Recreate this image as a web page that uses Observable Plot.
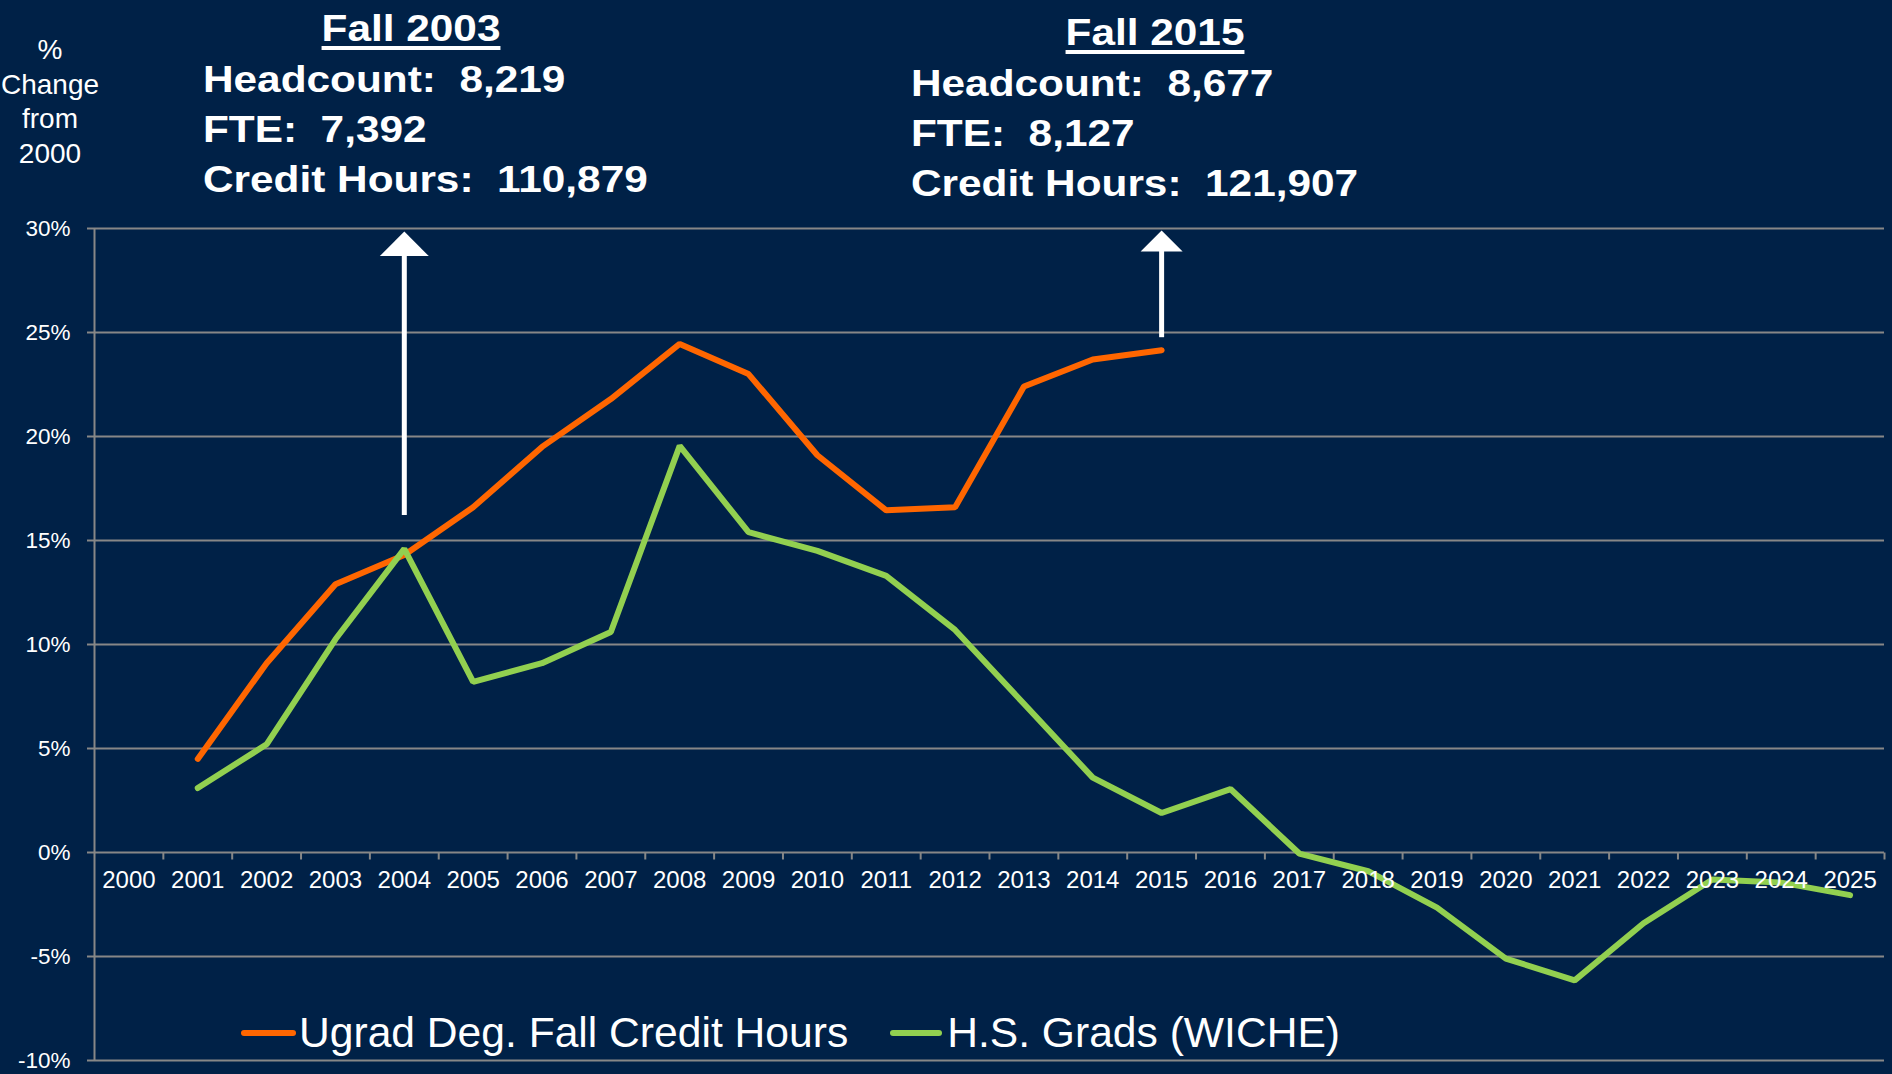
<!DOCTYPE html>
<html>
<head>
<meta charset="utf-8">
<script src="https://cdn.jsdelivr.net/npm/d3@7"></script>
<script src="https://cdn.jsdelivr.net/npm/@observablehq/plot@0.6"></script>
<style>
  html, body { margin: 0; padding: 0; background: #002147; }
  #wrap { position: relative; width: 1892px; height: 1074px; overflow: hidden; background: #002147;
          font-family: "Liberation Sans", Arial, sans-serif; color: #fff; }
  #wrap svg { position: absolute; left: 0; top: 0; }
  .anno { position: absolute; font-weight: bold; font-size: 36.5px; line-height: 50px; white-space: pre; color: #fff; }
  .anno.title { width: 400px; text-align: center; text-decoration: underline; text-decoration-thickness: 4px;
                text-underline-offset: 5px; transform: scaleX(1.16); transform-origin: center top; }
  .anno.lines { transform: scaleX(1.16); transform-origin: left top; }
  #ylabel { position: absolute; left: 0; top: 33px; width: 100px; text-align: center; font-size: 28px; line-height: 34.5px; }
  #legend { position: absolute; top: 1008px; left: 241px; display: flex; align-items: center; font-size: 42.6px; white-space: nowrap; }
  #legend .sw { display: inline-block; height: 6px; border-radius: 3px; }
</style>
</head>
<body>
<div id="wrap"></div>
<script>
// ---- data ----
const yearLabels = [2000, 2001, 2002, 2003, 2004, 2005, 2006, 2007, 2008, 2009, 2010, 2011, 2012,
                    2013, 2014, 2015, 2016, 2017, 2018, 2019, 2020, 2021, 2022, 2023, 2024, 2025];
const yTicks = [-10, -5, 0, 5, 10, 15, 20, 25, 30];

const seriesNames = ["Ugrad Deg. Fall Credit Hours", "H.S. Grads (WICHE)"];
const seriesColors = ["#FF6600", "#92D050"];

const ugradYears = [2001, 2002, 2003, 2004, 2005, 2006, 2007, 2008, 2009, 2010, 2011, 2012, 2013, 2014, 2015];
const ugradValues = [4.5, 9.1, 12.9, 14.3, 16.6, 19.5, 21.8, 24.45, 23.0, 19.1, 16.45, 16.6, 22.4, 23.7, 24.15];

const hsYears = [2001, 2002, 2003, 2004, 2005, 2006, 2007, 2008, 2009, 2010, 2011, 2012, 2013,
                 2014, 2015, 2016, 2017, 2018, 2019, 2020, 2021, 2022, 2023, 2024, 2025];
const hsValues = [3.1, 5.2, 10.25, 14.6, 8.2, 9.1, 10.6, 19.55, 15.4, 14.5, 13.3, 10.7, 7.15,
                  3.6, 1.9, 3.05, -0.05, -0.9, -2.65, -5.1, -6.15, -3.4, -1.3, -1.45, -2.05];

const annotations = [
  {year: 2004, title: "Fall 2003", headcount: "8,219", fte: "7,392", credit: "110,879", from: 16.2, to: 29.85},
  {year: 2015, title: "Fall 2015", headcount: "8,677", fte: "8,127", credit: "121,907", from: 24.75, to: 29.9}
];

const yLabelLines = ["%", "Change", "from", "2000"];

// ---- build ----
const GRID = "#878787";
const ugrad = ugradYears.map((year, i) => ({year, value: ugradValues[i]}));
const hs = hsYears.map((year, i) => ({year, value: hsValues[i]}));
const xDomain = [yearLabels[0] - 0.5, yearLabels[yearLabels.length - 1] + 0.5];
const boundaries = yearLabels.map(y => y + 0.5);

const tickSymbol = {draw(ctx, size) { const r = Math.sqrt(size / Math.PI); ctx.moveTo(0, 0); ctx.lineTo(0, r); }};
const headSymbol = {draw(ctx, size) { const r = Math.sqrt(size / Math.PI); ctx.moveTo(0, 0); ctx.lineTo(r, r); ctx.lineTo(-r, r); ctx.closePath(); }};

const chart = Plot.plot({
  width: 1892,
  height: 1074,
  marginLeft: 94,
  marginRight: 8,
  marginTop: 228,
  marginBottom: 14,
  style: {background: "transparent", color: "#fff", fontFamily: "'Liberation Sans', Arial, sans-serif", overflow: "visible"},
  x: {type: "linear", domain: xDomain, axis: null},
  y: {type: "linear", domain: [yTicks[0], yTicks[yTicks.length - 1]]},
  marks: [
    Plot.ruleY(yTicks, {stroke: GRID, strokeWidth: 2}),
    Plot.ruleX([xDomain[0]], {y1: yTicks[0], y2: yTicks[yTicks.length - 1], stroke: GRID, strokeWidth: 2}),
    Plot.axisY({ticks: yTicks, tickSize: 7, tickPadding: 17, tickFormat: d => d + "%", fontSize: 22.5,
                stroke: GRID, strokeWidth: 2, fill: "#fff", label: null}),
    Plot.dot(boundaries, {x: d => d, y: 0, symbol: tickSymbol, r: 7, stroke: GRID, strokeWidth: 2, fill: "none"}),
    // arrows
    Plot.ruleX(annotations, {x: "year", y1: "from", y2: d => d.to - 1, stroke: "#fff", strokeWidth: 5}),
    Plot.dot([annotations[0]], {x: "year", y: "to", symbol: headSymbol, r: 24.5, fill: "#fff", stroke: "none"}),
    Plot.dot([annotations[1]], {x: "year", y: "to", symbol: headSymbol, r: 21, fill: "#fff", stroke: "none"}),
    // series
    Plot.line(ugrad, {x: "year", y: "value", stroke: seriesColors[0], strokeWidth: 6, strokeLinejoin: "miter", strokeLinecap: "round"}),
    Plot.line(hs, {x: "year", y: "value", stroke: seriesColors[1], strokeWidth: 6, strokeLinejoin: "miter", strokeLinecap: "round"}),
    // x tick labels on the 0% line
    Plot.text(yearLabels, {x: d => d, y: 0, dy: 28, text: d => String(d), fontSize: 24, fill: "#fff"})
  ]
});

const wrap = document.getElementById("wrap");
wrap.appendChild(chart);

const xs = chart.scale("x");
const layout = [
  {titleDx: 7, titleTop: 3.8, linesDx: -201, linesTop: 55.4},
  {titleDx: -5.7, titleTop: 8.1, linesDx: -250.6, linesTop: 58.8}
];
annotations.forEach((a, i) => {
  const cx = xs.apply(a.year);
  const t = document.createElement("div");
  t.className = "anno title";
  t.style.left = (cx + layout[i].titleDx - 200) + "px";
  t.style.top = layout[i].titleTop + "px";
  t.textContent = a.title;
  wrap.appendChild(t);
  const l = document.createElement("div");
  l.className = "anno lines";
  l.style.left = (cx + layout[i].linesDx) + "px";
  l.style.top = layout[i].linesTop + "px";
  l.textContent = `Headcount:  ${a.headcount}\nFTE:  ${a.fte}\nCredit Hours:  ${a.credit}`;
  wrap.appendChild(l);
});

const yl = document.createElement("div");
yl.id = "ylabel";
yl.innerHTML = yLabelLines.join("<br>");
wrap.appendChild(yl);

const lg = document.createElement("div");
lg.id = "legend";
const swW = [55, 52], swGapBefore = [0, 42], swGapAfter = [3, 5];
seriesNames.forEach((name, i) => {
  const sw = document.createElement("span");
  sw.className = "sw";
  sw.style.background = seriesColors[i];
  sw.style.width = swW[i] + "px";
  sw.style.marginLeft = swGapBefore[i] + "px";
  sw.style.marginRight = swGapAfter[i] + "px";
  const tx = document.createElement("span");
  tx.textContent = name;
  lg.appendChild(sw);
  lg.appendChild(tx);
});
wrap.appendChild(lg);
</script>
</body>
</html>
